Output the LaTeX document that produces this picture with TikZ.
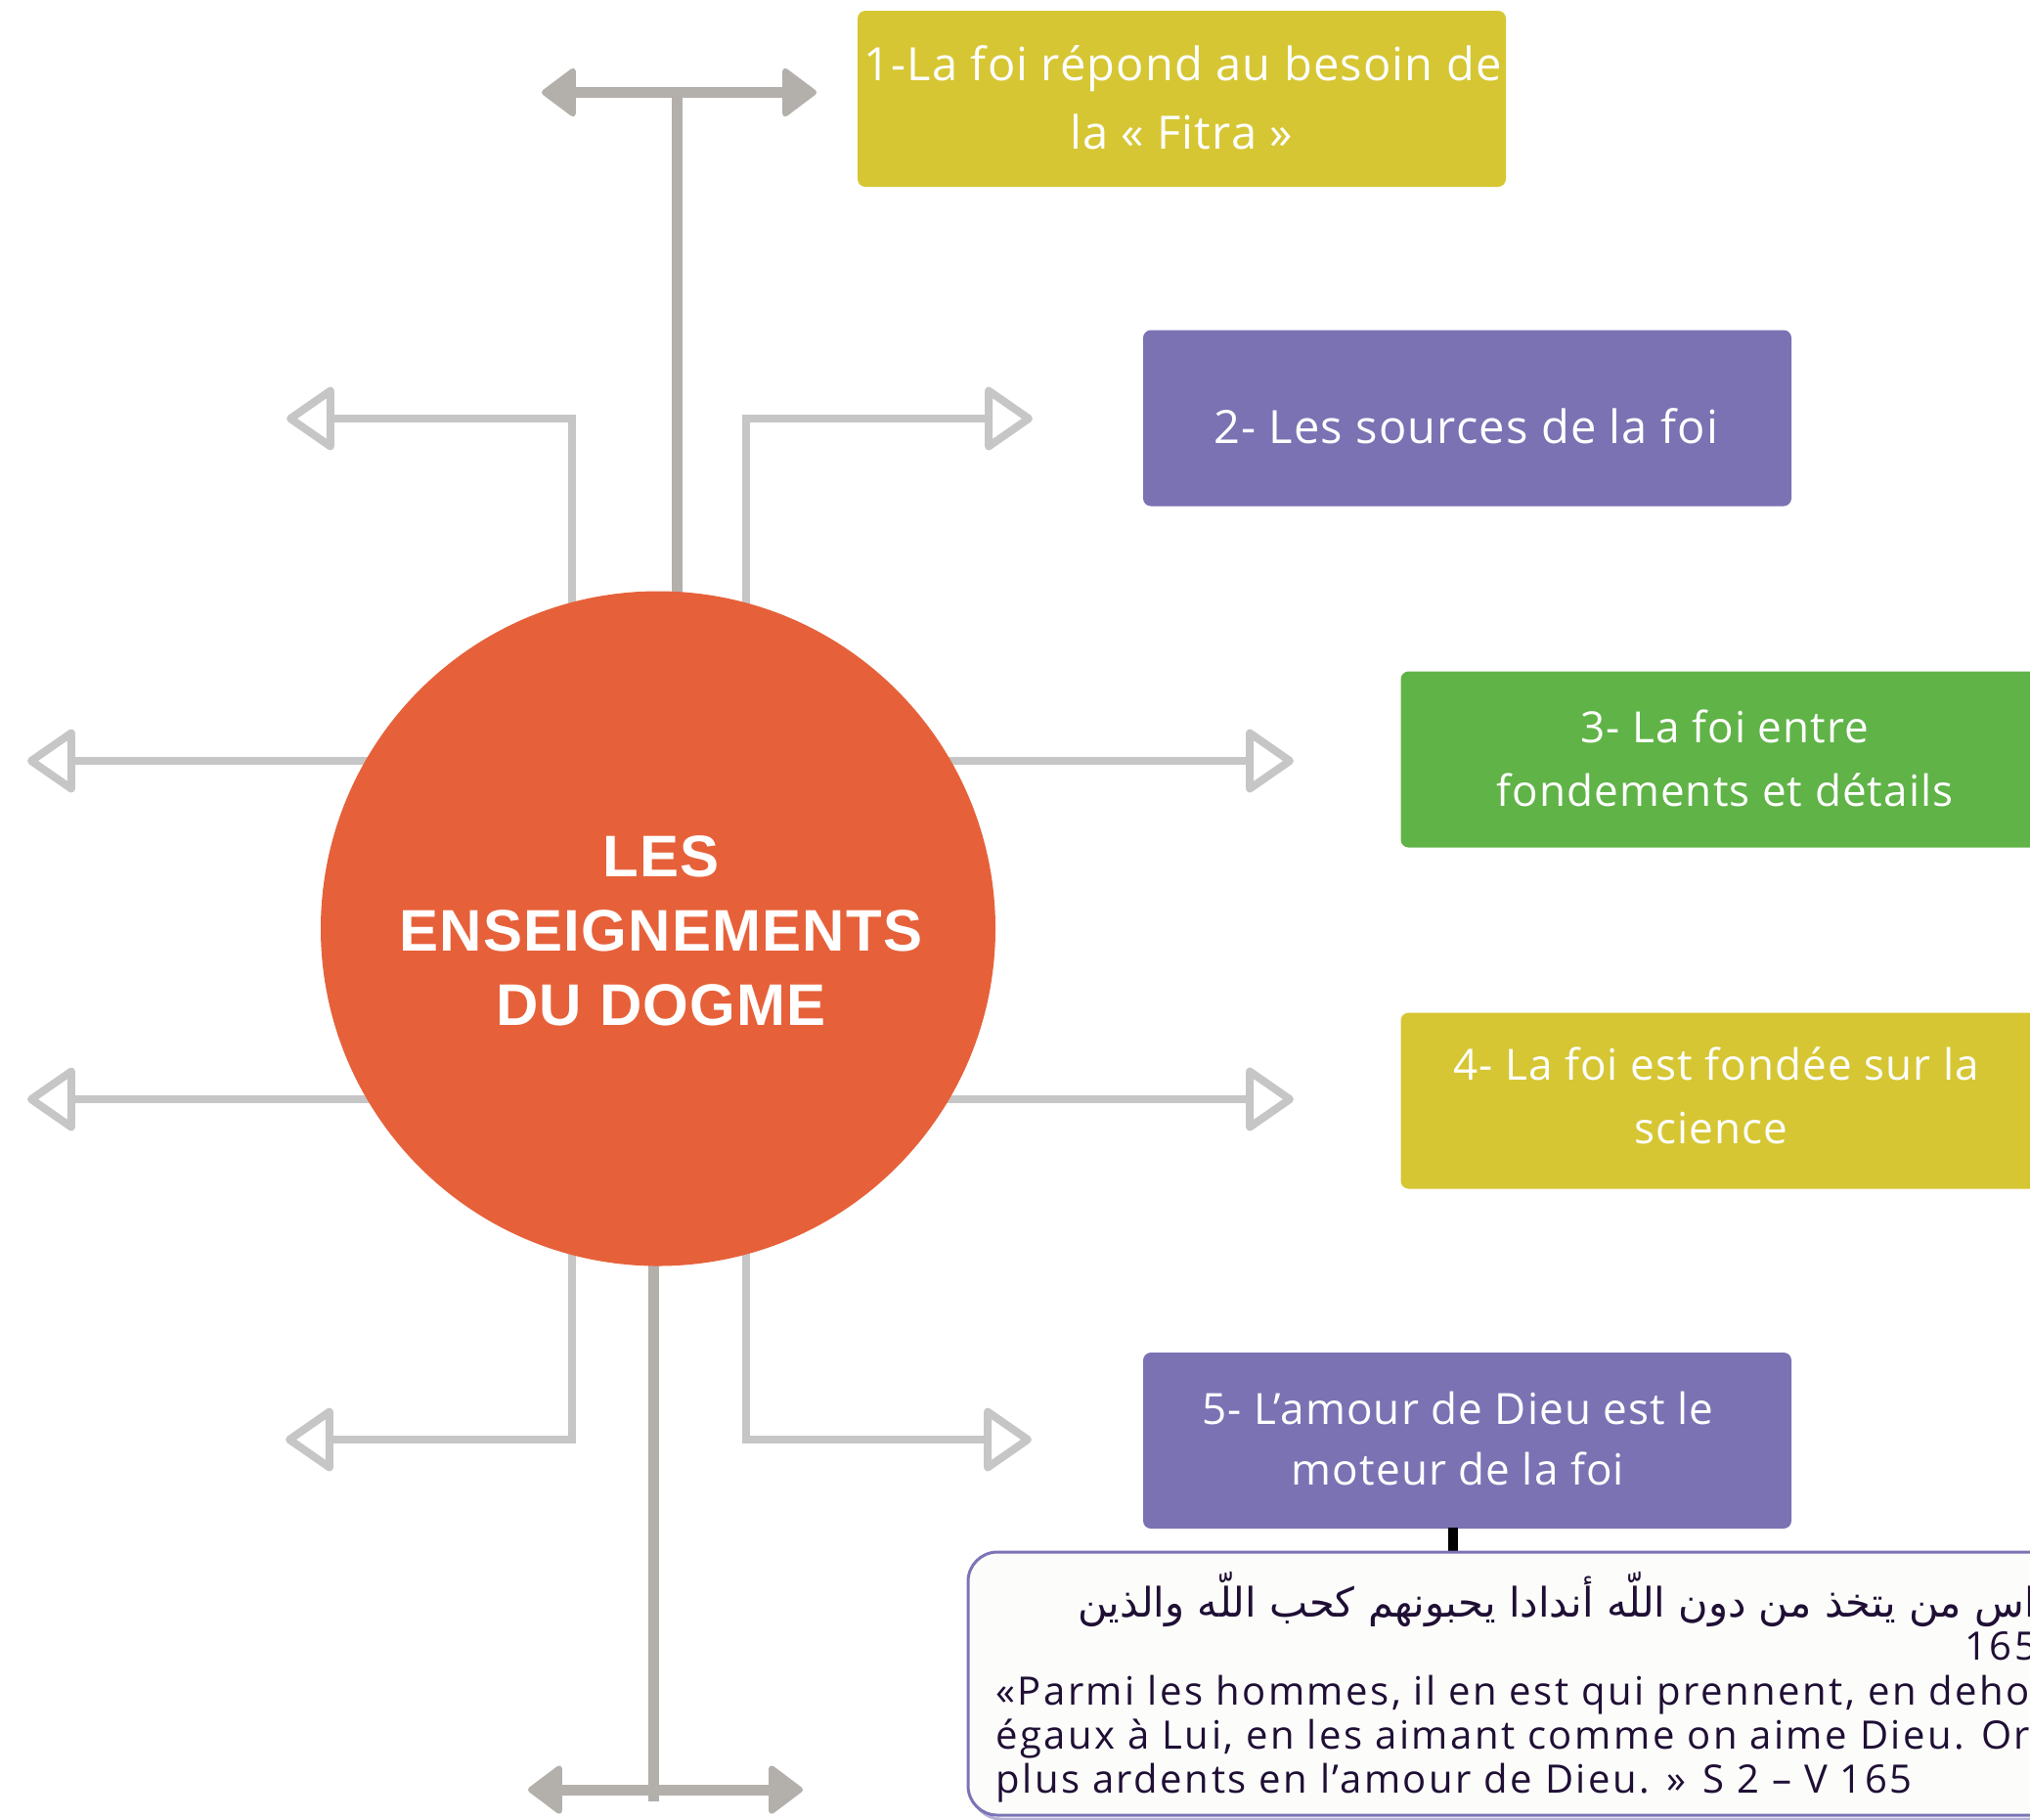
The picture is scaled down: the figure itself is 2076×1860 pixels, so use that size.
\documentclass[tikz,border=0pt]{standalone}
\usepackage{fontspec}
\setmainfont{Open Sans}
\newfontfamily\boxfont[LetterSpace=2.5]{Open Sans}
\newfontfamily\titlefont[LetterSpace=2]{Liberation Sans}
\newfontfamily\quotefont[LetterSpace=6.3]{Open Sans}
\newfontfamily\arabicfont[Script=Arabic]{DejaVu Sans}
\TeXXeTstate=1
\usetikzlibrary{arrows.meta}
\definecolor{orangeC}{HTML}{E6613A}
\definecolor{yellowC}{HTML}{D6C633}
\definecolor{purpleC}{HTML}{7A72B3}
\definecolor{greenC}{HTML}{60B347}
\definecolor{darkgrayC}{HTML}{B3AFAB}
\definecolor{lightgrayC}{HTML}{C6C6C6}
\definecolor{quoteborder}{HTML}{7B74B6}
\definecolor{quotefill}{HTML}{FCFCFA}
\definecolor{quotetext}{HTML}{1F0F35}
\begin{document}
\begin{tikzpicture}[x=0.5pt,y=-0.5pt,
  boxnode/.style={rectangle, rounded corners=4pt, minimum width=331.5pt, minimum height=90pt, inner sep=0pt, draw=none},
  boxtextbig/.style={anchor=base, text=white, inner sep=0pt, font=\boxfont\fontsize{23.5}{28}\selectfont},
  boxtext/.style={anchor=base, text=white, inner sep=0pt, font=\boxfont\fontsize{22}{26}\selectfont},
  titletext/.style={anchor=base, text=white, inner sep=0pt, font=\titlefont\bfseries\fontsize{30}{36}\selectfont},
  quoteline/.style={anchor=base west, text=quotetext, inner sep=0pt, font=\quotefont\fontsize{20}{24}\selectfont},
  bigarrow/.style={draw=darkgrayC, line width=5.5pt, {Triangle[length=18.5pt, width=27pt, round, line width=3pt]}-{Triangle[length=18.5pt, width=27pt, round, line width=3pt]}},
  stem/.style={draw=darkgrayC, line width=5.5pt},
  openarrow/.style={draw=lightgrayC, line width=4pt, -{Triangle[open, length=26pt, width=35pt, round]}},
]
\useasboundingbox (0,0) rectangle (2076,1860);
\fill[white] (0,0) rectangle (2076,1860);

% coordinates
\coordinate (topA) at (554,94.5);
\coordinate (topB) at (835,94.5);
\coordinate (topS) at (692,94.5);
\coordinate (topC) at (692,660);
\coordinate (botA) at (540,1830);
\coordinate (botB) at (821,1830);
\coordinate (botS) at (668,1842);
\coordinate (botC) at (668,1240);

\coordinate (ulS) at (585,660);
\coordinate (ulE) at (293,428);
\coordinate (urS) at (763,660);
\coordinate (urE) at (1056,428);
\coordinate (mluS) at (450,778);
\coordinate (mluE) at (28,778);
\coordinate (mruS) at (900,778);
\coordinate (mruE) at (1323,778);
\coordinate (mllS) at (450,1124);
\coordinate (mllE) at (28,1124);
\coordinate (mrlS) at (900,1124);
\coordinate (mrlE) at (1323,1124);
\coordinate (llS) at (585,1240);
\coordinate (llE) at (292,1472);
\coordinate (lrS) at (763,1240);
\coordinate (lrE) at (1055,1472);

% light open arrows
\draw[openarrow] (ulS) |- (ulE);
\draw[openarrow] (urS) |- (urE);
\draw[openarrow] (mluS) -- (mluE);
\draw[openarrow] (mruS) -- (mruE);
\draw[openarrow] (mllS) -- (mllE);
\draw[openarrow] (mrlS) -- (mrlE);
\draw[openarrow] (llS) |- (llE);
\draw[openarrow] (lrS) |- (lrE);

% dark stems and double arrows
\draw[stem] (topC) -- (topS);
\draw[bigarrow] (topA) -- (topB);
\draw[stem] (botC) -- (botS);
\draw[bigarrow] (botA) -- (botB);

% central circle
\node[circle, fill=orangeC, minimum size=345pt, inner sep=0pt] (centre) at (673,949.5) {};
\node[titletext] (ct1) at (676,896) {LES};
\node[titletext] (ct2) at (676,972) {ENSEIGNEMENTS};
\node[titletext] (ct3) at (676,1048) {DU DOGME};

% boxes
\begin{scope}
\clip (0,0) rectangle (2076,1860);
\node[boxnode, fill=yellowC] (b1) at (1208.5,101) {};
\node[boxnode, fill=purpleC] (b2) at (1500.5,427.5) {};
\node[boxnode, fill=greenC] (b3) at (1764,776.5) {};
\node[boxnode, fill=yellowC] (b4) at (1764,1125.5) {};
\node[boxnode, fill=purpleC] (b5) at (1500.5,1473) {};

\node[boxtextbig] (t1a) at (1209.5,82) {1-La foi répond au besoin de};
\node[boxtextbig] (t1b) at (1208,152) {la « Fitra »};
\node[boxtextbig] (t2) at (1499,453) {2- Les sources de la foi};
\node[boxtext] (t3a) at (1764,759) {3- La foi entre};
\node[boxtext] (t3b) at (1764,824) {fondements et détails};
\node[boxtext] (t4a) at (1755,1104) {4- La foi est fondée sur la};
\node[boxtext] (t4b) at (1750,1169) {science};
\node[boxtext] (t5a) at (1491,1456) {5- L’amour de Dieu est le};
\node[boxtext] (t5b) at (1491,1518) {moteur de la foi};

% connector to quote
\coordinate (qc1) at (1486,1562);
\coordinate (qc2) at (1486,1589);
\draw[black, line width=5pt] (qc1) -- (qc2);

% quote box
\draw[quoteborder!80, line width=1.5pt, rounded corners=15pt, opacity=0.7] (994,1591) rectangle (2114,1860);
\draw[quoteborder, fill=quotefill, line width=1.5pt, rounded corners=15pt] (990,1587) rectangle (2110,1856);
\node[anchor=base east, text=quotetext, inner sep=0pt, font=\arabicfont\fontsize{20.8}{25}\selectfont] (qa) at (2082,1653) {\beginR اس من يتخذ من دون اللّه أندادا يحبونهم كحب اللّه والذين\endR};
\node[quoteline] (qn) at (2009,1697) {165};
\node[quoteline] (q1) at (1018,1743) {«Parmi les hommes, il en est qui prennent, en deho};
\node[quoteline] (q2) at (1018,1788) {égaux à Lui, en les aimant comme on aime Dieu. Or};
\node[quoteline] (q3) at (1018,1833) {plus ardents en l’amour de Dieu. » S 2 – V 165};
\end{scope}
\end{tikzpicture}
\end{document}
